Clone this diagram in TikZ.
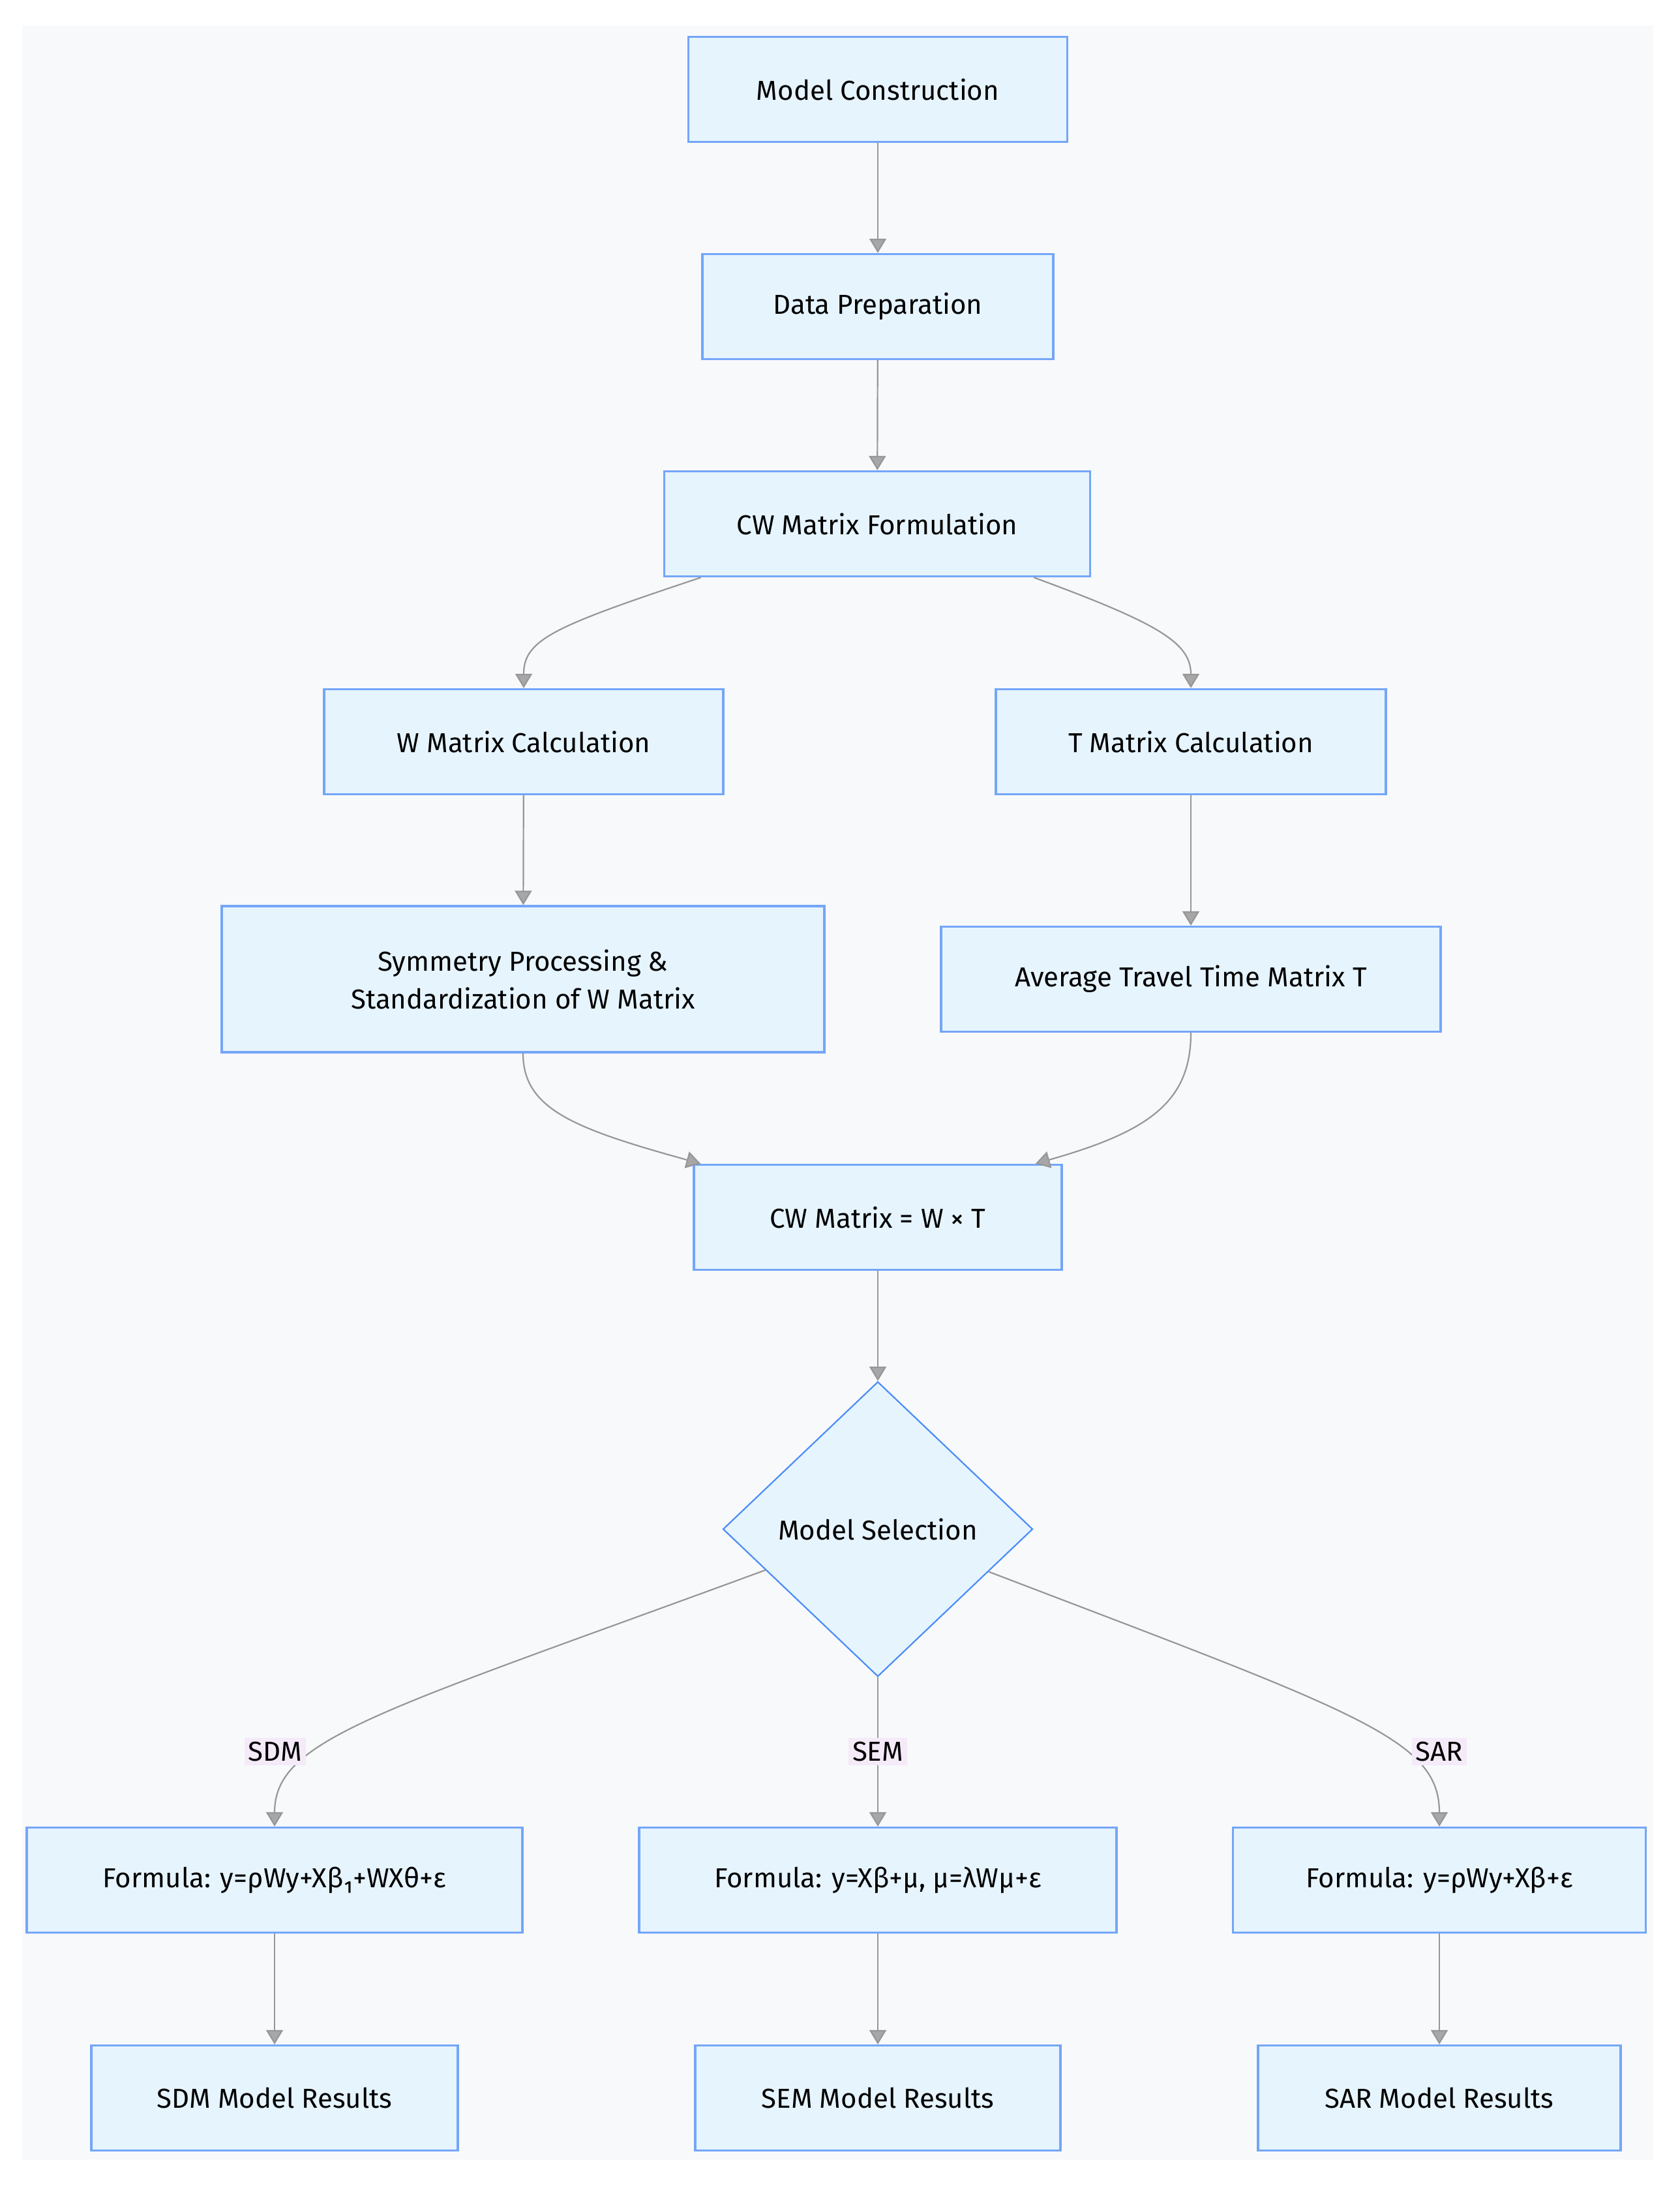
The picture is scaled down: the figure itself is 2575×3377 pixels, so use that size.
\documentclass[tikz,border=0pt]{standalone}
\usepackage{fontspec}
\setmainfont{Fira Sans}
\usepackage{xcolor}
\usetikzlibrary{shapes.geometric, arrows.meta}

\definecolor{panelbg}{HTML}{F8F9FB}
\definecolor{boxfill}{HTML}{E6F4FE}
\definecolor{boxline}{HTML}{74A6F8}
\definecolor{diamline}{HTML}{4C8DF6}
\definecolor{flowgray}{HTML}{979797}
\definecolor{labelbg}{HTML}{F4EAF8}

\begin{document}
\begin{tikzpicture}[x=0.5pt, y=-0.5pt,
	font=\fontsize{21}{29}\selectfont,
	procbox/.style={rectangle, draw=boxline, fill=boxfill, line width=1.7pt,
		minimum height=80.5pt, inner sep=0pt, align=center},
	decision/.style={diamond, draw=diamline, fill=boxfill, line width=1.1pt,
		minimum width=237.5pt, minimum height=226pt, inner sep=0pt},
	elabel/.style={fill=labelbg, inner sep=3pt},
	flow/.style={draw=flowgray, line width=1.1pt,
		-{Triangle[length=11pt, width=13pt, fill=flowgray!85]}}]
	\useasboundingbox (0,0) rectangle (2575,3377);
	\fill[panelbg] (34,39) rectangle (2535,3311);

	% upper chain
	\node[procbox, minimum width=290.5pt] (mc) at (1346,137) {Model Construction};
	\node[procbox, minimum width=269pt] (dp) at (1346,470) {Data Preparation};
	\node[procbox, minimum width=326.5pt] (cwf) at (1345,803) {CW Matrix Formulation};

	% two branches
	\node[procbox, minimum width=306pt] (wmc) at (803,1137) {W Matrix Calculation};
	\node[procbox, minimum width=299pt] (tmc) at (1826,1137) {T Matrix Calculation};
	\node[procbox, minimum width=462pt, minimum height=112pt] (sym) at (802,1501)
	{Symmetry Processing \&\\Standardization of W Matrix};
	\node[procbox, minimum width=383pt] (attm) at (1826,1501) {Average Travel Time Matrix T};
	\node[procbox, minimum width=282pt] (cwm) at (1346,1866) {CW Matrix = W × T};

	% model selection
	\node[decision, label=center:{Model Selection}] (sel) at (1346,2344) {};

	\node[procbox, minimum width=380pt] (fsdm) at (421,2882) {Formula: y=ρWy+Xβ₁+WXθ+ε};
	\node[procbox, minimum width=366pt] (fsem) at (1346,2882) {Formula: y=Xβ+μ, μ=λWμ+ε};
	\node[procbox, minimum width=316.5pt] (fsar) at (2207,2882) {Formula: y=ρWy+Xβ+ε};

	\node[procbox, minimum width=281pt] (rsdm) at (421,3216) {SDM Model Results};
	\node[procbox, minimum width=280pt] (rsem) at (1346,3216) {SEM Model Results};
	\node[procbox, minimum width=278pt] (rsar) at (2207,3216) {SAR Model Results};

	% connectors
	\draw[flow] (mc) -- (dp);
	\draw[flow] (dp) -- (cwf);
	\draw[flow] ([xshift=29pt]cwf.south west) .. controls (850,960) and (803,980) .. (wmc.north);
	\draw[flow] ([xshift=-44pt]cwf.south east) .. controls (1775,955) and (1826,985) .. (tmc.north);
	\draw[flow] (wmc) -- (sym);
	\draw[flow] (tmc) -- (attm);
	\draw[flow] (sym.south) .. controls (802,1700) and (880,1730) .. ([xshift=6pt]cwm.north west);
	\draw[flow] (attm.south) .. controls (1826,1690) and (1760,1735) .. ([xshift=-21pt]cwm.north east);
	\draw[flow] (cwm) -- (sel);
	\draw[flow] (sel.200) .. controls (580,2625) and (421,2665) .. (fsdm.north);
	\draw[flow] (sel.south) -- (fsem.north);
	\draw[flow] (sel.339) .. controls (2080,2625) and (2207,2665) .. (fsar.north);
	\draw[flow] (fsdm) -- (rsdm);
	\draw[flow] (fsem) -- (rsem);
	\draw[flow] (fsar) -- (rsar);

	% edge labels
	\node[elabel] (lsdm) at (422,2685) {SDM};
	\node[elabel] (lsem) at (1346,2685) {SEM};
	\node[elabel] (lsar) at (2207,2685) {SAR};
\end{tikzpicture}
\end{document}
